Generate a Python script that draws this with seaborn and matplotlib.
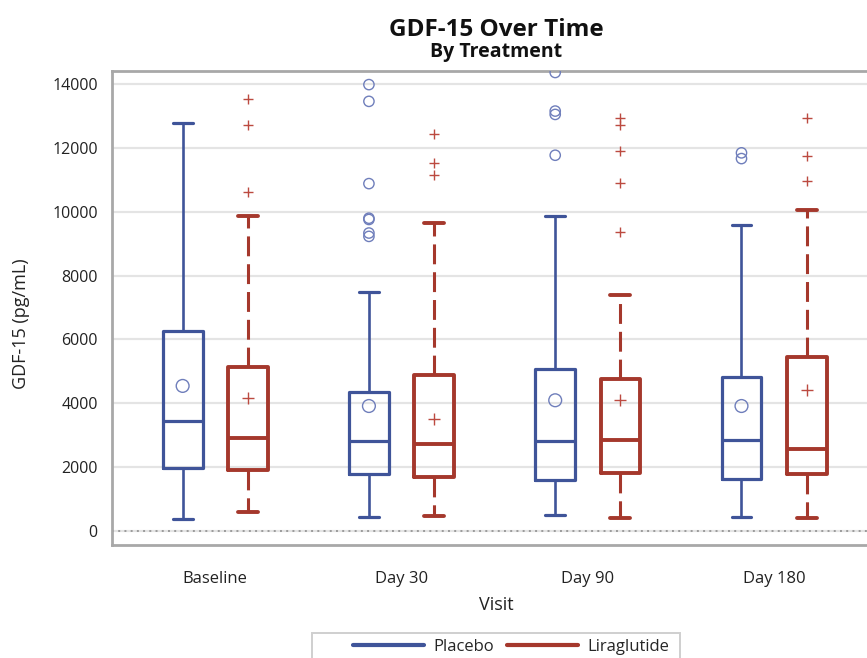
import numpy as np
import pandas as pd
import matplotlib
matplotlib.use("Agg")
import matplotlib.pyplot as plt
import seaborn as sns
from matplotlib.lines import Line2D
from matplotlib.patches import Rectangle

visits = ["Baseline", "Day 30", "Day 90", "Day 180"]
treatments = ["Placebo", "Liraglutide"]

# five-number summaries
placebo_whislo = [380, 420, 490, 420]
placebo_q1 = [1950, 1780, 1595, 1625]
placebo_med = [3440, 2800, 2810, 2830]
placebo_q3 = [6270, 4350, 5085, 4825]
placebo_whishi = [12790, 7500, 9865, 9575]
placebo_mean = [4540, 3910, 4090, 3910]

lira_whislo = [590, 450, 390, 390]
lira_q1 = [1890, 1680, 1805, 1785]
lira_med = [2915, 2725, 2850, 2570]
lira_q3 = [5140, 4875, 4770, 5450]
lira_whishi = [9875, 9645, 7390, 10045]
lira_mean = [4165, 3490, 4090, 4425]

placebo_outliers = [
    [],
    [13990, 13465, 10885, 9800, 9760, 9335, 9230],
    [14370, 13160, 13055, 11775],
    [11850, 11670],
]
lira_outliers = [
    [13540, 12710, 10610],
    [12435, 11535, 11145],
    [12950, 12720, 11900, 10905, 9355],
    [12930, 11755, 10955],
]

colors = {"Placebo": "#3F5499", "Liraglutide": "#A5382C"}
marker_colors = {"Placebo": "#6F7EBB", "Liraglutide": "#BC4A40"}

summaries = {
    "Placebo": (placebo_whislo, placebo_q1, placebo_med, placebo_q3, placebo_whishi),
    "Liraglutide": (lira_whislo, lira_q1, lira_med, lira_q3, lira_whishi),
}
rows = []
for trt, parts in summaries.items():
    for i, v in enumerate(visits):
        for p in parts:
            rows.append({"Visit": v, "Treatment": trt, "GDF15": p[i]})
box_df = pd.DataFrame(rows)

sns.set_style("white")
plt.rcParams["font.family"] = ["Open Sans", "DejaVu Sans"]

fig = plt.figure(figsize=(8.67, 6.58), dpi=100)
ax = fig.add_axes([0.1288, 0.1717, 0.8835, 0.7204])

# horizontal grid
for yv in range(0, 14001, 2000):
    ax.axhline(yv, color="#E4E4E4", lw=1.6, zorder=0)
ax.axhline(0, color="#9A9A9A", lw=1.4, ls=(0, (1, 2.2)), zorder=1)

width, gap = 0.7, 0.39
styles = {
    "Placebo": dict(linewidth=2.3,
                    whiskerprops={"linestyle": "-", "linewidth": 1.9}),
    "Liraglutide": dict(linewidth=2.8,
                        whiskerprops={"linestyle": (0, (6.5, 2.6)), "linewidth": 2.2}),
}
for trt in treatments:
    sns.boxplot(
        data=box_df[box_df["Treatment"] == trt], x="Visit", y="GDF15",
        hue="Treatment", hue_order=treatments, order=visits, dodge=True,
        palette=colors, fill=False, whis=(0, 100), width=width, gap=gap,
        showfliers=False, legend=False, ax=ax, **styles[trt],
    )

# means and outliers, dodged to match the box positions
offsets = {"Placebo": -width / 4, "Liraglutide": width / 4}
mk = {"Placebo": "o", "Liraglutide": "+"}
means = {"Placebo": placebo_mean, "Liraglutide": lira_mean}
outs = {"Placebo": placebo_outliers, "Liraglutide": lira_outliers}
for trt in treatments:
    xs = np.arange(len(visits)) + offsets[trt]
    fc = "none" if trt == "Placebo" else marker_colors[trt]
    ax.scatter(xs, means[trt], marker=mk[trt], s=85, facecolors=fc,
               edgecolors=marker_colors[trt], color=marker_colors[trt],
               linewidths=1.0, zorder=5, clip_on=True)
    ox, oy = [], []
    for i, vals in enumerate(outs[trt]):
        ox += [xs[i]] * len(vals)
        oy += vals
    ax.scatter(ox, oy, marker=mk[trt], s=55, facecolors=fc,
               edgecolors=marker_colors[trt], color=marker_colors[trt],
               linewidths=1.0, zorder=5, clip_on=True)

ax.set_xlim(-0.556, 3.556)
ax.set_ylim(-450, 14417)
ax.set_yticks(range(0, 14001, 2000))
ax.set_xticks(range(len(visits)))
ax.set_xticklabels(visits)
ax.tick_params(axis="both", colors="#A0A0A0", labelcolor="#222222",
               labelsize=11.5, length=7, width=1.6, direction="out", pad=3)
ax.tick_params(axis="x", pad=12, labelsize=12)
for sp in ax.spines.values():
    sp.set_color("#A8A8A8")
    sp.set_linewidth(2)
ax.set_xlabel("")
ax.set_ylabel("")

fig.text(0.5725, 1 - 36 / 658, "GDF-15 Over Time", ha="center", va="baseline",
         fontsize=17.5, fontweight="bold", color="#111111")
fig.text(0.5725, 1 - 57 / 658, "By Treatment", ha="center", va="baseline",
         fontsize=14, fontweight="bold", color="#111111")
fig.text(0.5725, 1 - 605 / 658, "Visit", ha="center", va="center",
         fontsize=13, color="#222222")
fig.text(21 / 867, 1 - 324 / 658, "GDF-15 (pg/mL)", ha="center", va="center",
         rotation=90, fontsize=13, color="#222222")

handles = [Line2D([], [], color=colors[t], lw=3) for t in treatments]
fig.legend(handles, treatments, loc="center", ncol=2, frameon=False,
           bbox_to_anchor=(511 / 867, 1 - 647 / 658), fontsize=12,
           handlelength=4.3, handletextpad=0.55, columnspacing=0.75)
fig.patches.append(Rectangle((312 / 867, -0.02), 368 / 867, 0.02 + 25.5 / 658,
                             transform=fig.transFigure, fill=False,
                             edgecolor="#CFCFCF", lw=1.4))

fig.savefig("out.png", dpi=100)
